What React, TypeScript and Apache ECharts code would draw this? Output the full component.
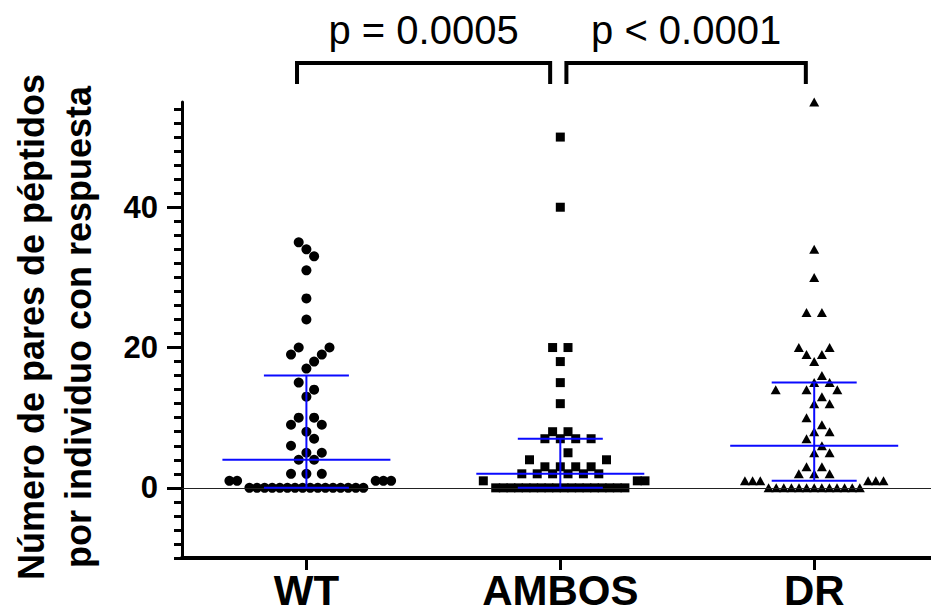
import React, { useEffect, useRef } from 'react';
import * as echarts from 'echarts';

// ---------- data ----------
const CATEGORIES = ['WT', 'AMBOS', 'DR'];
const WT_VALUES = [
  0, 0, 0, 0, 0, 0, 0, 0, 0, 0, 0, 0, 0, 0, 0, 0,
  1, 1, 1, 1, 1, 2, 2, 2, 4, 4, 5, 5, 6, 7, 8, 9, 9, 10, 10,
  13, 14, 15, 17, 18, 19, 19, 20, 20, 24, 27, 31, 33, 34, 35,
];
const AMBOS_VALUES = [
  0, 0, 0, 0, 0, 0, 0, 0, 0, 0, 0, 0, 0, 0, 0, 0, 0, 0,
  1, 1, 1, 2, 2, 2, 2, 2, 2, 3, 3, 3, 3, 4, 4, 5, 7, 7, 7, 7, 8, 8,
  12, 15, 18, 20, 20, 40, 50,
];
const DR_VALUES = [
  0, 0, 0, 0, 0, 0, 0, 0, 0, 0, 0, 0, 0,
  1, 1, 1, 1, 1, 1, 2, 2, 2, 3, 3, 5, 5, 6, 7, 8, 8, 9, 10, 12, 12, 13,
  14, 14, 14, 15, 15, 16, 18, 19, 19, 20, 20, 25, 25, 30, 34, 55,
];
const MEDIANS = [4, 2, 6];
const Q1S = [0, 0, 1];
const Q3S = [16, 7, 15];
const Y_TICK_LABELS = [0, 20, 40];
const P_LABELS = ['p = 0.0005', 'p < 0.0001'];
const Y_TITLE = ['Número de pares de péptidos', 'por individuo con respuesta'];

// ---------- layout ----------
const W = 931;
const H = 613;
const GRID_LEFT = 182;
const GRID_RIGHT = 0;
const GRID_TOP = 102;
const GRID_BOTTOM = 55;
const Y_MIN = -10;
const Y_MAX = 55;
const X_MIN = -0.49;
const X_MAX = 2.46;
const PX_X = (W - GRID_LEFT - GRID_RIGHT) / (X_MAX - X_MIN);
const PX_Y = (H - GRID_TOP - GRID_BOTTOM) / (Y_MAX - Y_MIN);
const MED_HALF = 84 / PX_X;
const IQR_HALF = 42.5 / PX_X;
const BRACKETS = [[-0.037, 0.96], [1.024, 1.967]];
const FONT = '"Liberation Sans", Arial, Helvetica, sans-serif';
const BLUE = '#0a0aff';

// Beeswarm-like arrangement (GraphPad style rows), offsets in px
function swarm(values: number[]): number[] {
  const offsets = new Array(values.length).fill(0);
  const rows = new Map<number, number[]>();
  values.forEach((v, i) => {
    if (!rows.has(v)) rows.set(v, []);
    rows.get(v)!.push(i);
  });
  const keys = Array.from(rows.keys()).sort((a, b) => a - b);
  const placed: { x: number; y: number; dense: boolean }[] = [];
  const collides = (x: number, y: number) =>
    placed.some((p) => {
      const dy = Math.abs(p.y - y);
      const dx = Math.abs(p.x - x);
      if (dy < 1) return dx < 7;
      if (dy < 8) return dx < 7.5;
      if (dy < 15 && !p.dense) return dx < 3;
      return false;
    });
  for (const v of keys) {
    const idx = rows.get(v)!;
    const n = idx.length;
    const y = v * PX_Y;
    const dense = n > 12;
    const S = dense ? 7.6 : 15.4;
    const sym = (sp: number, sh: number) =>
      Array.from({ length: n }, (_, i) => (i - (n - 1) / 2) * sp + sh);
    const cands = [sym(S, 0), sym(S, S / 2), sym(S, -S / 2), sym(2 * S, 0), sym(2 * S, S / 2), sym(2 * S, -S / 2)];
    let chosen = cands.find((c) => c.every((x) => !collides(x, y)));
    if (!chosen) {
      chosen = [];
      for (let k = 0; k < n; k++) {
        for (let j = 0; j < 60; j++) {
          const step = j === 0 ? 0 : j % 2 === 1 ? (j + 1) / 2 : -j / 2;
          const x = step * 7.7;
          if (!collides(x, y) && !chosen.some((c) => Math.abs(c - x) < 7)) {
            chosen.push(x);
            break;
          }
        }
      }
    }
    idx.forEach((i, k) => {
      offsets[i] = chosen![k];
      placed.push({ x: chosen![k], y, dense });
    });
  }
  return offsets;
}

function points(values: number[], cat: number) {
  const off = swarm(values);
  return values.map((v, i) => [cat + off[i] / PX_X, v]);
}

const minorTicks: number[] = [];
for (let v = Y_MIN; v <= Y_MAX - 1; v += 2) minorTicks.push(v);

export default function App() {
  const ref = useRef<HTMLDivElement>(null);
  useEffect(() => {
    if (!ref.current) return;
    const chart = echarts.init(ref.current, null, { renderer: 'svg' });
    const groups = [WT_VALUES, AMBOS_VALUES, DR_VALUES];
    const symbols = ['circle', 'rect', 'triangle'];
    const sizes: any[] = [10, 9, [10, 9]];
    const scatterSeries = groups.map((vals, gi) => ({
      type: 'scatter',
      data: points(vals, gi),
      symbol: symbols[gi],
      symbolSize: sizes[gi],
      itemStyle: { color: '#000', opacity: 1 },
      z: 3,
      markLine:
        gi === 0
          ? {
              silent: true,
              symbol: 'none',
              label: { show: false },
              lineStyle: { color: '#222', width: 1, type: 'solid', opacity: 1 },
              data: [{ yAxis: 0 }],
            }
          : undefined,
    }));
    chart.setOption({
      animation: false,
      backgroundColor: '#fff',
      grid: { left: GRID_LEFT, right: GRID_RIGHT, top: GRID_TOP, bottom: GRID_BOTTOM, containLabel: false },
      xAxis: {
        type: 'value',
        min: X_MIN,
        max: X_MAX,
        axisLine: { show: true, onZero: false, lineStyle: { color: '#000', width: 4 } },
        axisTick: { show: true, customValues: [0, 1, 2], length: 12, lineStyle: { color: '#000', width: 3 } },
        axisLabel: {
          show: true,
          customValues: [0, 1, 2],
          formatter: (v: number) => CATEGORIES[Math.round(v)] ?? '',
          fontSize: 42,
          fontWeight: 'bold',
          fontFamily: FONT,
          color: '#000',
          margin: 11,
        },
        splitLine: { show: false },
      },
      yAxis: [
        {
          type: 'value',
          min: Y_MIN,
          max: Y_MAX,
          axisLine: { show: true, onZero: false, lineStyle: { color: '#000', width: 3 } },
          axisTick: { show: true, customValues: Y_TICK_LABELS, length: 15, lineStyle: { color: '#000', width: 3 } },
          axisLabel: {
            show: true,
            customValues: Y_TICK_LABELS,
            fontSize: 31,
            fontWeight: 'bold',
            fontFamily: FONT,
            color: '#000',
            margin: 24,
          },
          splitLine: { show: false },
        },
        {
          type: 'value',
          min: Y_MIN,
          max: Y_MAX,
          position: 'left',
          offset: 0,
          axisLine: { show: false, onZero: false },
          axisTick: { show: true, customValues: minorTicks, length: 8, lineStyle: { color: '#000', width: 3 } },
          axisLabel: { show: false },
          splitLine: { show: false },
        },
      ],
      series: [
        ...scatterSeries,
        {
          type: 'custom',
          data: CATEGORIES.map((_, i) => [i, Q1S[i], MEDIANS[i], Q3S[i]]),
          encode: { x: 0, y: [1, 2, 3] },
          z: 5,
          clip: false,
          renderItem: (params: any, api: any) => {
            const c = api.value(0);
            const q1 = api.value(1);
            const md = api.value(2);
            const q3 = api.value(3);
            const seg = (a: number[], b: number[]) => ({
              type: 'line',
              shape: { x1: a[0], y1: a[1], x2: b[0], y2: b[1] },
              style: { stroke: BLUE, lineWidth: 2 },
            });
            return {
              type: 'group',
              children: [
                seg(api.coord([c - MED_HALF, md]), api.coord([c + MED_HALF, md])),
                seg(api.coord([c - IQR_HALF, q1]), api.coord([c + IQR_HALF, q1])),
                seg(api.coord([c - IQR_HALF, q3]), api.coord([c + IQR_HALF, q3])),
                seg(api.coord([c, q1]), api.coord([c, q3])),
              ],
            };
          },
        },
      ],
    });

    const bracketY = 63;
    const legY = 84;
    const graphics: any[] = [];
    BRACKETS.forEach((b, i) => {
      const x1 = chart.convertToPixel({ gridIndex: 0 }, [b[0], 0])[0];
      const x2 = chart.convertToPixel({ gridIndex: 0 }, [b[1], 0])[0];
      graphics.push({
        type: 'polyline',
        shape: { points: [[x1, legY], [x1, bracketY], [x2, bracketY], [x2, legY]] },
        style: { stroke: '#000', lineWidth: 4, fill: null },
      });
      graphics.push({
        type: 'text',
        x: (x1 + x2) / 2,
        y: 30,
        style: {
          text: P_LABELS[i],
          font: `40px ${FONT}`,
          fill: '#000',
          textAlign: 'center',
          textVerticalAlign: 'middle',
        },
      });
    });
    graphics.push({
      type: 'text',
      x: 55,
      y: 327,
      rotation: Math.PI / 2,
      style: {
        text: Y_TITLE.join('\n'),
        font: `bold 36px ${FONT}`,
        lineHeight: 47,
        fill: '#000',
        textAlign: 'center',
        textVerticalAlign: 'middle',
      },
    });
    chart.setOption({ graphic: graphics });
    return () => chart.dispose();
  }, []);
  return (
    <div
      ref={ref}
      style={{ position: 'absolute', left: 0, top: 0, width: W, height: H, background: '#fff' }}
    />
  );
}
